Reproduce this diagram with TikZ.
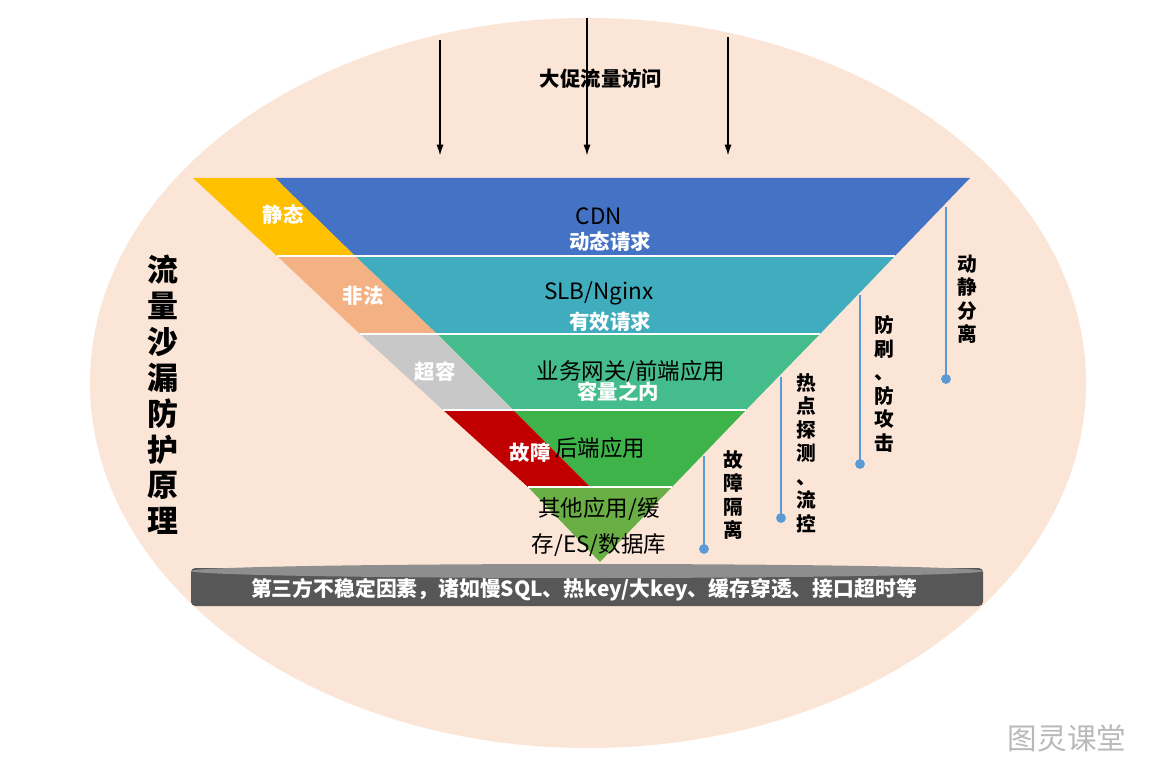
\documentclass[tikz,border=0pt]{standalone}
\usepackage{fontspec}
\setmainfont{Noto Sans CJK SC}
\usetikzlibrary{arrows.meta}

\definecolor{sandbg}{HTML}{FBE5D7}
\definecolor{cdnblue}{HTML}{4472C4}
\definecolor{slbteal}{HTML}{3FADBE}
\definecolor{gwgreen}{HTML}{44BC8B}
\definecolor{appgreen}{HTML}{3DB34A}
\definecolor{dbgreen}{HTML}{6AAF45}
\definecolor{statyellow}{HTML}{FFC000}
\definecolor{illegalorange}{HTML}{F4B183}
\definecolor{overgray}{HTML}{C8C8C8}
\definecolor{faultred}{HTML}{C00000}
\definecolor{guideblue}{HTML}{5B9BD5}
\definecolor{bardark}{HTML}{575757}
\definecolor{barrim}{HTML}{8E8E8E}

\tikzset{
  whitetag/.style={text=white, inner sep=0pt, font=\fontsize{14.5}{16}\selectfont\bfseries},
  blacktag/.style={text=black, inner sep=0pt, font=\fontsize{16}{18}\selectfont},
  sidetag/.style={align=center, inner sep=0pt, font=\fontsize{14}{16.7}\selectfont\bfseries},
  guide/.style={guideblue, line width=2pt},
  guidedot/.style={circle, fill=guideblue, inner sep=0pt, minimum size=7pt},
  inflow/.style={-{Latex[length=8pt, width=5pt]}, line width=1.3pt},
  bandsep/.style={white, line width=1.2pt},
}

\begin{document}
\begin{tikzpicture}[x=0.025cm, y=-0.025cm]
\fill[white] (0,0) rectangle (1167,781);
\useasboundingbox (0,0) rectangle (1167,781);

% background egg
\fill[sandbg] (588,383) ellipse [x radius=498, y radius=365];

% main funnel layers
\fill[cdnblue] (275,178) -- (970,178) -- (895,256) -- (355,256) -- cycle;
\fill[slbteal] (355,256) -- (895,256) -- (820,334) -- (437,334) -- cycle;
\fill[gwgreen] (437,334) -- (820,334) -- (746,410) -- (513,410) -- cycle;
\fill[appgreen] (513,410) -- (746,410) -- (672,487) -- (590,487) -- cycle;
\fill[dbgreen] (528,487) -- (672,487) -- (600,562) -- cycle;

% leaking parts on the left
\fill[statyellow] (193,178) -- (275,178) -- (355,256) -- (277,256) -- cycle;
\fill[illegalorange] (277,256) -- (355,256) -- (437,334) -- (360,334) -- cycle;
\fill[overgray] (360,334) -- (437,334) -- (513,410) -- (443,410) -- cycle;
\fill[faultred] (443,410) -- (513,410) -- (590,487) -- (528,487) -- cycle;

\draw[bandsep] (277,256) -- (895,256);
\draw[bandsep] (360,334) -- (820,334);
\draw[bandsep] (443,410) -- (746,410);
\draw[bandsep] (528,487) -- (672,487);

% traffic coming in
\coordinate (src1) at (440,40);
\coordinate (src2) at (587,18);
\coordinate (src3) at (728,37);
\coordinate (hit1) at (440,156);
\coordinate (hit2) at (587,156);
\coordinate (hit3) at (728,156);
\draw[inflow] (src1) -- (hit1);
\draw[inflow] (src2) -- (hit2);
\draw[inflow] (src3) -- (hit3);
\node[inner sep=0pt, font=\fontsize{14.5}{16}\selectfont\bfseries] (traffic) at (601,79) {大促流量访问};

% layer texts
\node[blacktag] (cdn) at (599,216) {CDN};
\node[whitetag] (dynreq) at (610,242) {动态请求};
\node[blacktag] (slb) at (599,293) {SLB/Nginx};
\node[whitetag] (validreq) at (610,322) {有效请求};
\node[blacktag] (gateway) at (631,372) {业务网关/前端应用};
\node[whitetag] (incap) at (618,392) {容量之内};
\node[blacktag] (backend) at (600,448) {后端应用};
\node[blacktag, align=center, font=\fontsize{16}{26}\selectfont] (others) at (599,527) {其他应用/缓\\存/ES/数据库};

\node[whitetag] (static) at (283,215) {静态};
\node[whitetag] (illegal) at (363,296) {非法};
\node[whitetag] (overcap) at (435,372) {超容};
\node[whitetag] (fault) at (530,453) {故障};

% title
\node[align=center, inner sep=0pt, font=\fontsize{22}{25.5}\selectfont\bfseries] (title) at (163,395)
  {流\\量\\沙\\漏\\防\\护\\原\\理};

% guides on the right
\coordinate (edge1) at (946,207);
\coordinate (edge2) at (860,295);
\coordinate (edge3) at (781,377);
\coordinate (edge4) at (704,456);
\node[guidedot] (dot1) at (946,379) {};
\node[guidedot] (dot2) at (860,464) {};
\node[guidedot] (dot3) at (781,518) {};
\node[guidedot] (dot4) at (704,549) {};
\draw[guide] (edge1) -- (dot1.center);
\draw[guide] (edge2) -- (dot2.center);
\draw[guide] (edge3) -- (dot3.center);
\draw[guide] (edge4) -- (dot4.center);

\node[sidetag] (split) at (967,299) {动\\静\\分\\离};
\node[sidetag] (antibrush) at (884,384) {防\\刷\\、\\防\\攻\\击};
\node[sidetag] (hotspot) at (806,453) {热\\点\\探\\测\\、\\流\\控};
\node[sidetag] (isolate) at (733,495) {故\\障\\隔\\离};

% third party base
\fill[bardark, rounded corners=3pt] (191,568) rectangle (983,606);
\fill[barrim] (587,571) ellipse [x radius=396, y radius=7];
\node[text=white, inner sep=0pt, font=\fontsize{14.8}{16}\selectfont\bfseries] (thirdparty) at (584,590)
  {第三方不稳定因素，诸如慢SQL、热key/大key、缓存穿透、接口超时等};

\node[text=gray!55, inner sep=0pt, font=\fontsize{21}{24}\selectfont] (mark) at (1067,738) {图灵课堂};

\end{tikzpicture}
\end{document}
